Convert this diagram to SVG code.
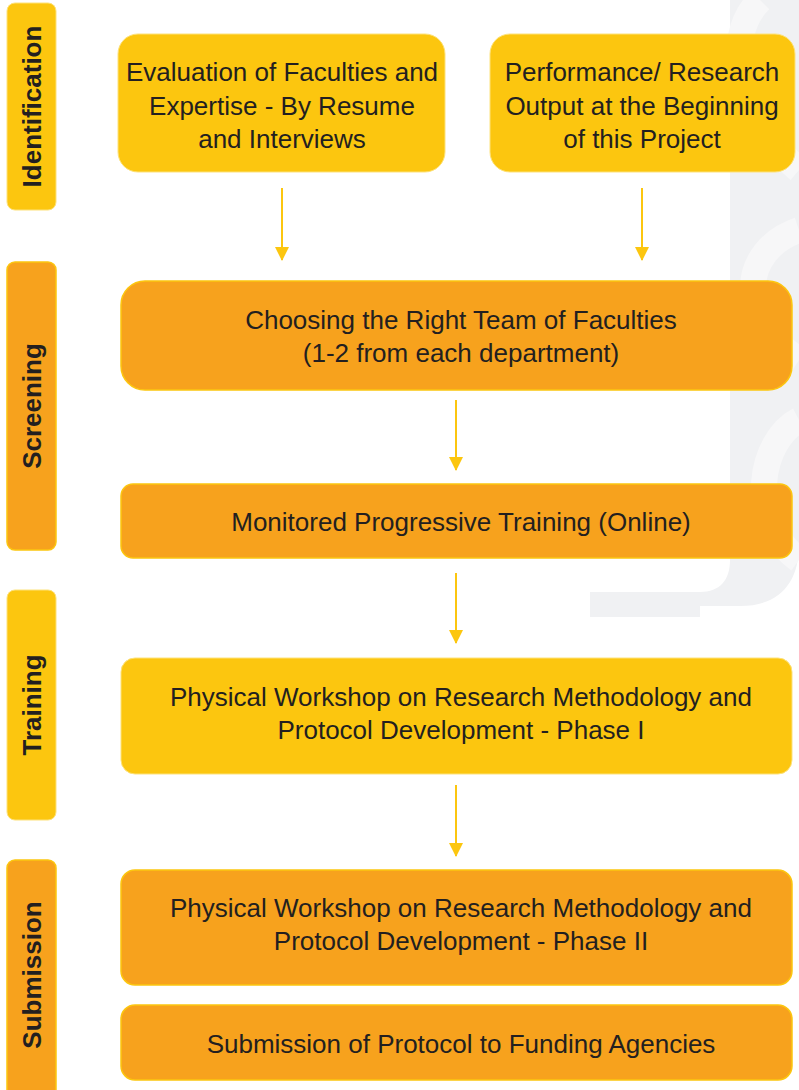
<svg xmlns="http://www.w3.org/2000/svg" width="799" height="1090" viewBox="0 0 799 1090">
<style>
.bg{fill:#f0f1f3}
.sn{fill:none;stroke:#f7f7f8;stroke-width:26}
.o{fill:#f7a21d;stroke:#fcc60f;stroke-width:1.5}
.yb{fill:#fcc60f;stroke:#fde27a;stroke-width:1}
.t{font-family:"Liberation Sans",Arial,sans-serif;font-size:26px;fill:#231f20;text-anchor:middle}
.s{font-family:"Liberation Sans",Arial,sans-serif;font-size:26px;font-weight:bold;fill:#231f20;text-anchor:middle}
.c{stroke:#fcc60f;stroke-width:2;fill:none}
</style>
<defs>
<marker id="ah" markerWidth="14" markerHeight="14" refX="13" refY="7" orient="auto" markerUnits="userSpaceOnUse" viewBox="0 0 14 14">
<path d="M0,0 L14,7 L0,14 Z" fill="#fcc60f"/>
</marker>
</defs>
<rect width="799" height="1090" fill="#ffffff"/>
<g id="background">
<path class="bg" d="M730,0 H799 V545 C799,582 780,606 740,606 H700 V617 H590 V592 H700 C720,592 730,580 730,560 Z"/>
<path class="sn" d="M760,0 C720,40 740,120 799,170 M799,230 C740,250 735,320 799,360 M799,420 C760,440 745,520 799,560"/>
</g>
<g id="stage-identification">
<rect class="yb" x="7" y="3" width="49" height="207" rx="8"/>
<text class="s" transform="translate(41,106.5) rotate(-90)">Identification</text>
</g>
<g id="stage-screening">
<rect class="o" x="7" y="262" width="49" height="288" rx="8"/>
<text class="s" transform="translate(41,406) rotate(-90)">Screening</text>
</g>
<g id="stage-training">
<rect class="yb" x="7" y="590" width="49" height="230" rx="8"/>
<text class="s" transform="translate(41,705) rotate(-90)">Training</text>
</g>
<g id="stage-submission">
<rect class="o" x="7" y="860" width="49" height="240" rx="8"/>
<text class="s" transform="translate(41,975) rotate(-90)">Submission</text>
</g>
<g id="connectors">
<line class="c" x1="282" y1="188" x2="282" y2="260" marker-end="url(#ah)"/>
<line class="c" x1="642" y1="188" x2="642" y2="260" marker-end="url(#ah)"/>
<line class="c" x1="456" y1="400" x2="456" y2="470" marker-end="url(#ah)"/>
<line class="c" x1="456" y1="573" x2="456" y2="643" marker-end="url(#ah)"/>
<line class="c" x1="456" y1="785" x2="456" y2="856" marker-end="url(#ah)"/>
</g>
<g id="node-evaluation">
<rect class="yb" x="118" y="34" width="327" height="138" rx="20"/>
<text class="t" x="282" y="81">Evaluation of Faculties and</text>
<text class="t" x="282" y="115">Expertise - By Resume</text>
<text class="t" x="282" y="148">and Interviews</text>
</g>
<g id="node-performance">
<rect class="yb" x="490" y="34" width="305" height="138" rx="20"/>
<text class="t" x="642" y="81">Performance/ Research</text>
<text class="t" x="642" y="115">Output at the Beginning</text>
<text class="t" x="642" y="148">of this Project</text>
</g>
<g id="node-choosing">
<rect class="o" x="121" y="281" width="671" height="109" rx="24"/>
<text class="t" x="461" y="329">Choosing the Right Team of Faculties</text>
<text class="t" x="461" y="362">(1-2 from each department)</text>
</g>
<g id="node-monitored">
<rect class="o" x="121" y="484" width="671" height="74" rx="12"/>
<text class="t" x="461" y="531">Monitored Progressive Training (Online)</text>
</g>
<g id="node-phase1">
<rect class="yb" x="121" y="658" width="671" height="116" rx="14"/>
<text class="t" x="461" y="706">Physical Workshop on Research Methodology and</text>
<text class="t" x="461" y="739">Protocol Development - Phase I</text>
</g>
<g id="node-phase2">
<rect class="o" x="121" y="870" width="671" height="115" rx="14"/>
<text class="t" x="461" y="917">Physical Workshop on Research Methodology and</text>
<text class="t" x="461" y="950">Protocol Development - Phase II</text>
</g>
<g id="node-submission">
<rect class="o" x="121" y="1005" width="671" height="75" rx="14"/>
<text class="t" x="461" y="1053">Submission of Protocol to Funding Agencies</text>
</g>
</svg>
